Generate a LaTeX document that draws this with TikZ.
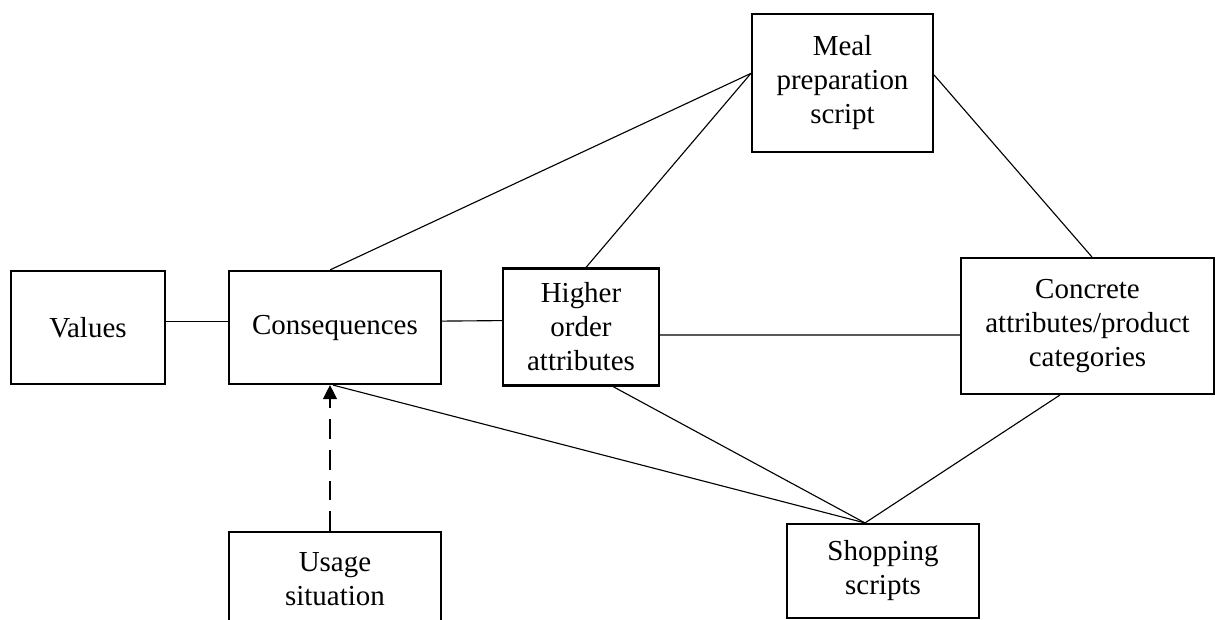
\documentclass[tikz,border=0pt]{standalone}
\usepackage{fontspec}
\setmainfont{Liberation Serif}
\usetikzlibrary{arrows.meta}

\tikzset{
    box/.style={draw, line width=1.5pt, inner sep=0pt, align=center,
        font=\fontsize{20.6}{24.2}\selectfont},
    link/.style={line width=0.8pt}
}

\begin{document}
\begin{tikzpicture}[x=0.025cm, y=-0.025cm]
        \clip (0,0) rectangle (1216,619);

        \node[box, minimum width=3.85cm, minimum height=2.825cm] (values) at (88,327.5) {Values};
        \node[box, minimum width=5.3cm, minimum height=2.825cm] (conseq) at (335,327.5) {Consequences};
        \node[box, minimum width=3.9cm, minimum height=2.925cm] (higher) at (581,327) {Higher\\order\\attributes};
        \node[box, minimum width=4.525cm, minimum height=3.45cm] (meal) at (842.5,83) {Meal\\preparation\\script};
        \node[box, minimum width=6.325cm, minimum height=3.4cm] (concrete) at (1087.5,326) {Concrete\\attributes/product\\categories};
        \node[box, minimum width=5.3cm, minimum height=2.35cm] (usage) at (335,579) {Usage\\situation};
        \node[box, minimum width=4.8cm, minimum height=2.35cm] (shop) at (883,571) {Shopping\\scripts};

        \coordinate (mealin) at ([yshift=0.24cm]meal.west);
        \coordinate (shoptop) at ([xshift=-0.45cm]shop.north);

        \draw[link] ([yshift=0.16cm]values.east) -- ([yshift=0.16cm]conseq.west);
        \draw[link] ([yshift=0.16cm]conseq.east) -- ([yshift=0.16cm]higher.west);
        \draw[link] ([yshift=-0.2cm]higher.east) -- ([yshift=-0.225cm]concrete.west);

        \draw[link] ([xshift=-0.125cm]conseq.north) -- (mealin);
        \draw[link] ([xshift=0.125cm]higher.north) -- (mealin);
        \draw[link] ([yshift=0.2cm]meal.east) -- ([xshift=0.11cm]concrete.north);

        \draw[link] ([xshift=-0.05cm]conseq.south) -- (shoptop);
        \draw[link] ([xshift=0.8cm]higher.south) -- (shoptop);
        \draw[link] ([xshift=-0.69cm]concrete.south) -- (shoptop);

        \draw[link, dash pattern=on 14pt off 7.8pt, -{Triangle[length=10pt, width=10pt]}]
            ([xshift=-0.125cm]usage.north) -- ([xshift=-0.125cm]conseq.south);

    \end{tikzpicture}
\end{document}
